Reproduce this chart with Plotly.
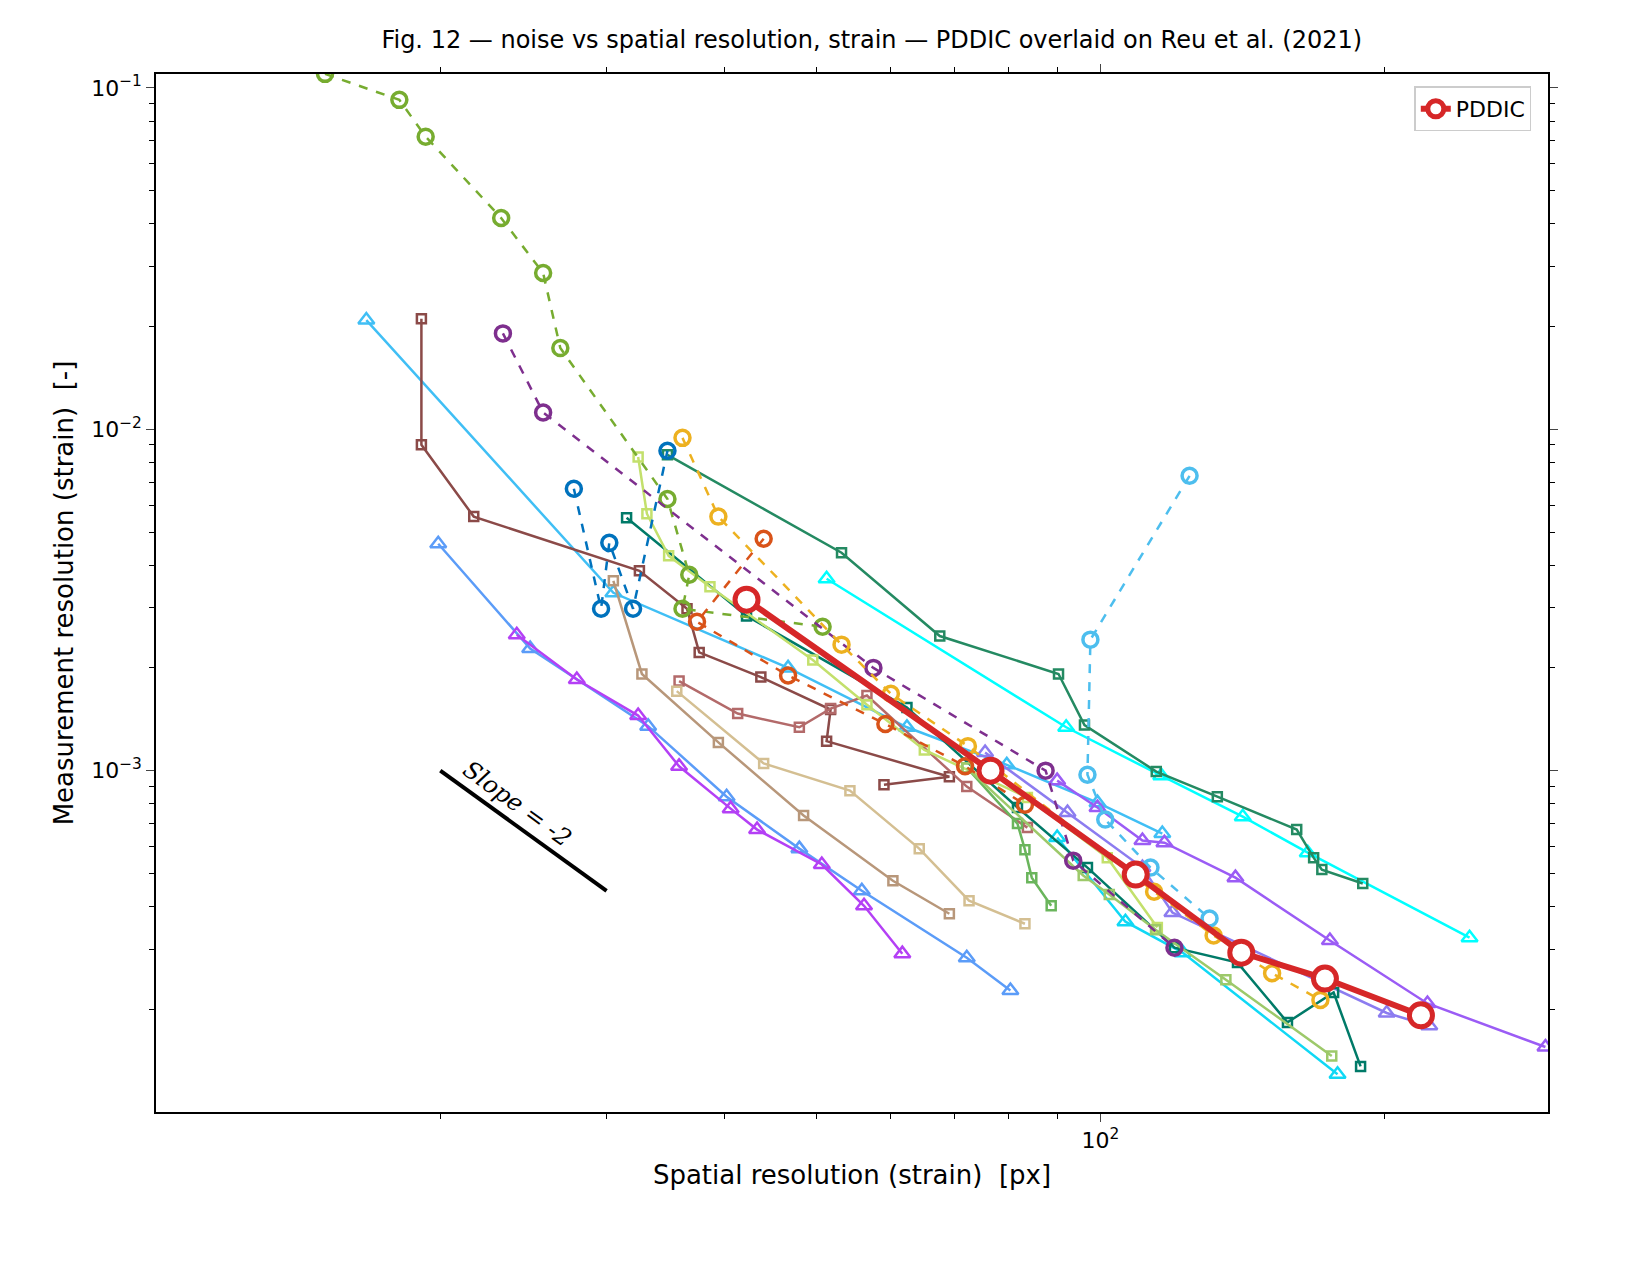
import math
import plotly.graph_objects as go

# ---- data ----
s_green_x = [15.1, 18.1, 19.3, 23.2, 25.7, 26.8, 34.8, 36.7, 36.1, 50.8]
s_green_y = [0.110, 0.0923, 0.0720, 0.0416, 0.0287, 0.0173, 0.00625, 0.00375, 0.00298, 0.00264]
s_purple_x = [23.3, 25.7, 57.5, 87.5, 93.6, 119.8]
s_purple_y = [0.0191, 0.0112, 0.00200, 0.00100, 0.000545, 0.000303]
s_blue_x = [27.7, 29.6, 30.2, 32.0, 34.8]
s_blue_y = [0.0067, 0.00298, 0.00465, 0.00298, 0.00865]
s_orange_x = [36.1, 39.4, 53.2, 60.0, 72.4, 114, 131.8, 152, 171]
s_orange_y = [0.00944, 0.00555, 0.00234, 0.00168, 0.00118, 0.000442, 0.000329, 0.000255, 0.000213]
s_redor_x = [44.0, 37.4, 46.7, 59.2, 71.9, 83.2]
s_redor_y = [0.00478, 0.00273, 0.0019, 0.00137, 0.00103, 0.000795]
s_lblue_x = [124.3, 97.6, 96.9, 101.2, 113, 130.5]
s_lblue_y = [0.00731, 0.00242, 0.000973, 0.000719, 0.00052, 0.000369]

q_dgreen_x = [34.8, 53.2, 67.6, 90.3, 96.2, 114.6, 133, 161.4, 168.2, 171.6, 189.6]
q_dgreen_y = [0.00842, 0.00435, 0.00248, 0.00192, 0.00136, 0.000994, 0.000839, 0.000672, 0.000556, 0.000513, 0.000467]
q_teal_x = [31.5, 42.2, 62.4, 81.7, 96.9, 119.8, 139.7, 157.8, 176.6, 188.6]
q_teal_y = [0.00551, 0.00284, 0.00153, 0.00078, 0.00052, 0.000303, 0.000274, 0.000183, 0.000224, 0.000136]
q_brown_x = [19.1, 19.1, 21.7, 32.5, 36.5, 37.6, 43.7, 51.8, 51.3, 69.2, 59.0]
q_brown_y = [0.0211, 0.00901, 0.00555, 0.00385, 0.00298, 0.00222, 0.00188, 0.00151, 0.00122, 0.00096, 0.00091]
q_rose_x = [35.8, 41.3, 48.0, 51.8, 56.6, 72.2, 83.7]
q_rose_y = [0.00183, 0.00147, 0.00134, 0.00152, 0.00166, 0.000898, 0.000681]
q_tan_x = [30.5, 32.7, 39.4, 48.5, 60.3, 69.2]
q_tan_y = [0.0036, 0.00192, 0.00121, 0.000739, 0.000476, 0.000381]
q_ltan_x = [35.6, 44.0, 54.3, 64.3, 72.6, 83.2]
q_ltan_y = [0.00171, 0.00105, 0.000874, 0.000591, 0.000416, 0.000356]
q_lgreen_x = [32.4, 33.1, 34.9, 38.6, 49.6, 56.6, 65.1, 83.7, 101.7, 114.9]
q_lgreen_y = [0.0083, 0.00566, 0.00426, 0.00346, 0.00211, 0.00156, 0.00115, 0.000834, 0.000556, 0.000347]
q_mgreen_x = [72.2, 81.7, 83.2, 84.6, 88.7]
q_mgreen_y = [0.00102, 0.0007, 0.000587, 0.000486, 0.000402]
q_olive_x = [72.2, 95.9, 102.2, 114.4, 135.8, 175.8]
q_olive_y = [0.00102, 0.000493, 0.000434, 0.000342, 0.000244, 0.000146]

t_sky_x = [16.7, 30.5, 46.7, 62.4, 79.6, 99.3, 116.3]
t_sky_y = [0.0209, 0.00332, 0.0020, 0.00134, 0.00104, 0.000806, 0.000654]
t_corn_x = [19.9, 24.9, 33.2, 40.2, 48.0, 55.9, 72.2, 80.3]
t_corn_y = [0.00462, 0.00228, 0.00135, 0.000839, 0.000591, 0.000445, 0.000283, 0.000227]
t_mag_x = [24.1, 27.9, 32.4, 35.8, 40.6, 43.3, 50.7, 56.2, 61.7]
t_mag_y = [0.0025, 0.00185, 0.00145, 0.00103, 0.000774, 0.000672, 0.000531, 0.000402, 0.000291]
t_cyan_x = [51.3, 92.0, 116, 141.5, 165.8, 246]
t_cyan_y = [0.00365, 0.00134, 0.000967, 0.000733, 0.000575, 0.000324]
t_dsky_x = [90.0, 106.3, 122.2, 178.3]
t_dsky_y = [0.000637, 0.000361, 0.000293, 0.000129]
t_mpur_x = [90, 99.3, 110.8, 116.9, 139, 175, 222, 296]
t_mpur_y = [0.000935, 0.00078, 0.000624, 0.000615, 0.000486, 0.000318, 0.000208, 0.000155]
t_lav_x = [75.5, 92.3, 110.8, 119.2, 201, 223]
t_lav_y = [0.00113, 0.000754, 0.00052, 0.000384, 0.000195, 0.000179]

pddic_x = [42.2, 76.5, 109, 141, 172.9, 218.5]
pddic_y = [0.00317, 0.00100, 0.000496, 0.000293, 0.000246, 0.000192]

slope_x = [20, 30]
slope_y = [0.001, 0.001 * (30 / 20) ** -2]

fig = go.Figure()

def add(x, y, color, sym, dash="solid", size=9, lw=2.5, mlw=2.5):
    fig.add_trace(go.Scatter(x=x, y=y, mode="lines+markers", showlegend=False,
                             line=dict(color=color, width=lw, dash=dash),
                             marker=dict(symbol=sym, size=size, color=color,
                                         line=dict(color=color, width=mlw))))

circ = "circle-open"; sq = "square-open"; tri = "triangle-up-open"
add(t_sky_x, t_sky_y, "#40bff5", tri, size=14)
add(t_corn_x, t_corn_y, "#5b9cf8", tri, size=14)
add(t_mag_x, t_mag_y, "#b440f5", tri, size=14)
add(t_cyan_x, t_cyan_y, "#00ffff", tri, size=14)
add(t_dsky_x, t_dsky_y, "#10d8f5", tri, size=14)
add(t_mpur_x, t_mpur_y, "#9b5cf5", tri, size=14)
add(t_lav_x, t_lav_y, "#8c7cf0", tri, size=14)
add(q_dgreen_x, q_dgreen_y, "#248a62", sq)
add(q_teal_x, q_teal_y, "#007a68", sq)
add(q_brown_x, q_brown_y, "#8b4a48", sq)
add(q_rose_x, q_rose_y, "#b36a6a", sq)
add(q_tan_x, q_tan_y, "#b8977a", sq)
add(q_ltan_x, q_ltan_y, "#d4bf92", sq)
add(q_lgreen_x, q_lgreen_y, "#c3e06c", sq)
add(q_mgreen_x, q_mgreen_y, "#6ab55c", sq)
add(q_olive_x, q_olive_y, "#9dc96a", sq)
add(s_green_x, s_green_y, "#77ac30", circ, dash="dash", size=15, mlw=3.5)
add(s_purple_x, s_purple_y, "#7e2f8e", circ, dash="dash", size=15, mlw=3.5)
add(s_blue_x, s_blue_y, "#0072bd", circ, dash="dash", size=15, mlw=3.5)
add(s_orange_x, s_orange_y, "#edb120", circ, dash="dash", size=15, mlw=3.5)
add(s_redor_x, s_redor_y, "#d95319", circ, dash="dash", size=15, mlw=3.5)
add(s_lblue_x, s_lblue_y, "#4dbeee", circ, dash="dash", size=15, mlw=3.5)

fig.add_trace(go.Scatter(x=pddic_x, y=pddic_y, mode="lines+markers", name="PDDIC",
                         line=dict(color="#d62728", width=6),
                         marker=dict(symbol="circle", size=23, color="white",
                                     line=dict(color="#d62728", width=5))))

fig.add_trace(go.Scatter(x=slope_x, y=slope_y, mode="lines", showlegend=False,
                         line=dict(color="black", width=4)))
fig.add_annotation(x=0.5 * (math.log10(20) + math.log10(30)),
                   y=-3.155, text="<i>Slope = -2</i>", showarrow=False, textangle=36,
                   font=dict(family="DejaVu Serif", size=24, color="black"),
                   xshift=-6, yshift=20)

maj_y = [0.1, 0.01, 0.001]
min_y = [k * 10 ** e for e in (-4, -3, -2, -1) for k in range(2, 10) if k * 10 ** e <= 0.11]
min_x = [20, 30, 40, 50, 60, 70, 80, 90, 200]

fig.update_layout(
    width=1639, height=1280, plot_bgcolor="white", paper_bgcolor="white",
    margin=dict(l=148, r=99, t=66, b=176),
    font=dict(family="DejaVu Sans", size=22, color="black"),
    title=dict(text="Fig. 12 — noise vs spatial resolution, strain — PDDIC overlaid on Reu et al. (2021)",
               x=0.527, xanchor="center", y=0.982, yanchor="top", font=dict(size=24)),
    legend=dict(x=0.988, y=0.988, xanchor="right", yanchor="top", bordercolor="#cccccc",
                borderwidth=1.5, bgcolor="white", font=dict(size=22)),
)
fig.update_xaxes(type="log", range=[1.0, 2.474], showgrid=False, showline=True, linecolor="black",
                 linewidth=1.5, mirror="ticks", ticks="outside", ticklen=8, tickvals=[100],
                 ticktext=["10<sup>2</sup>"],
                 minor=dict(tickvals=min_x, ticks="outside", ticklen=5, tickcolor="black"),
                 title=dict(text="Spatial resolution (strain)  [px]", standoff=14))
fig.update_yaxes(type="log", range=[-4.0, -0.959], showgrid=False, showline=True, linecolor="black",
                 linewidth=1.5, mirror="ticks", ticks="outside", ticklen=8, tickvals=maj_y,
                 ticktext=["10<sup>−1</sup>", "10<sup>−2</sup>", "10<sup>−3</sup>"],
                 minor=dict(tickvals=min_y, ticks="outside", ticklen=5, tickcolor="black"),
                 title=dict(text="Measurement resolution (strain)  [-]", standoff=10))

fig.write_html("out.html")
